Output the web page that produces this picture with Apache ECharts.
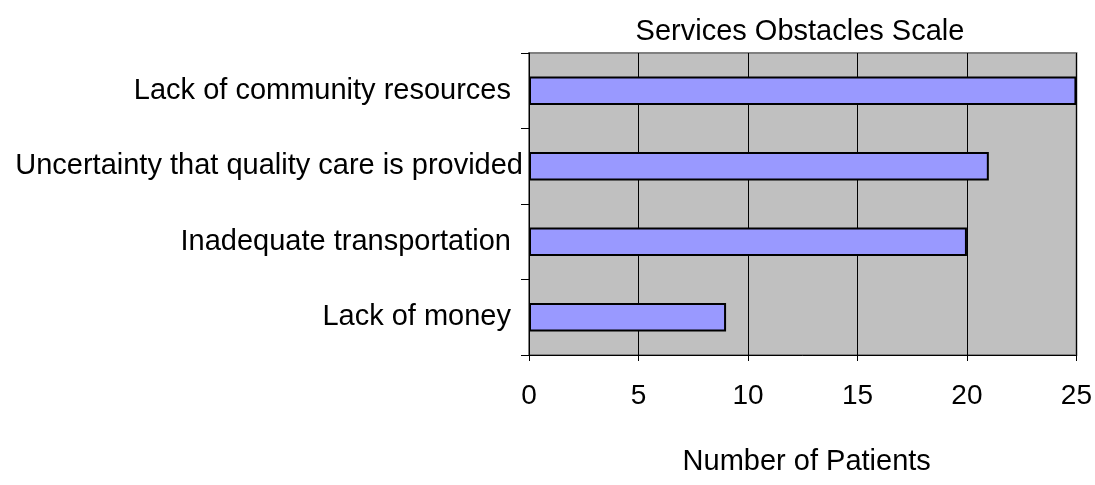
<!DOCTYPE html>
<html>
<head>
<meta charset="utf-8">
<script src="https://cdn.jsdelivr.net/npm/echarts@6/dist/echarts.min.js"></script>
<style>
  html, body { margin: 0; padding: 0; background: #fff; }
  #main { width: 1095px; height: 485px; }
</style>
</head>
<body>
<div id="main"></div>
<script>
// data
var categories = [
  'Lack of community resources',
  'Uncertainty that quality care is provided',
  'Inadequate transportation',
  'Lack of money'
]
var patients = [25, 21, 20, 9]
var xTicks = [0, 5, 10, 15, 20, 25]

var font = 'Liberation Sans, Arial, sans-serif'
var longLabel = 'Uncertainty that quality care is provided'

var chart = echarts.init(document.getElementById('main'))
chart.setOption({
  animation: false,
  title: {
    text: 'Services Obstacles Scale',
    left: 795,
    top: 12,
    textAlign: 'center',
    textStyle: { fontFamily: font, fontSize: 29, fontWeight: 'normal', color: '#000' }
  },
  grid: {
    left: 529,
    right: 18,
    top: 53,
    bottom: 130,
    show: true,
    backgroundColor: '#c0c0c0',
    borderColor: '#808080',
    borderWidth: 2
  },
  xAxis: {
    type: 'value',
    min: xTicks[0],
    max: xTicks[xTicks.length - 1],
    interval: 5,
    name: 'Number of Patients',
    nameLocation: 'middle',
    nameGap: 92,
    nameTextStyle: { fontFamily: font, fontSize: 29, color: '#000', verticalAlign: 'top', padding: [0, 0, 0, 8] },
    axisLine: { show: true, lineStyle: { color: '#000', width: 1 } },
    axisTick: { show: true, inside: false, length: 6, lineStyle: { color: '#000' } },
    axisLabel: { margin: 27, fontFamily: font, fontSize: 28, color: '#000' },
    splitLine: { show: true, lineStyle: { color: '#000', width: 1 } }
  },
  yAxis: {
    type: 'category',
    inverse: true,
    data: categories,
    axisLine: { show: true, lineStyle: { color: '#000', width: 1 } },
    axisTick: { show: true, inside: false, length: 8, lineStyle: { color: '#000' } },
    axisLabel: {
      margin: 6,
      formatter: function (v) {
        return v === longLabel ? '{b|' + v + '}' : '{a|' + v + '}'
      },
      rich: {
        a: { fontFamily: font, fontSize: 29, color: '#000', padding: [0, 12, 0, 0] },
        b: { fontFamily: font, fontSize: 29, color: '#000', padding: [0, 0, 0, 0] }
      }
    }
  },
  series: [
    {
      type: 'bar',
      data: patients,
      barWidth: '38%',
      itemStyle: { color: '#9999ff', borderColor: '#000', borderWidth: 2 }
    }
  ]
})
</script>
</body>
</html>
